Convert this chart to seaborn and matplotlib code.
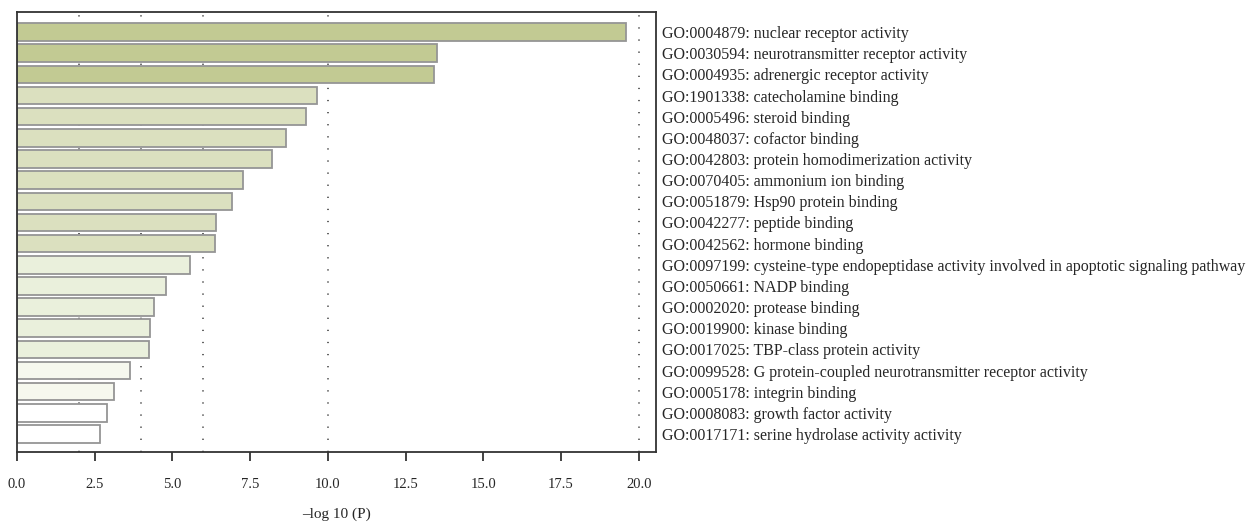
import matplotlib
matplotlib.use("Agg")
import matplotlib.pyplot as plt
import seaborn as sns
import numpy as np
from matplotlib.ticker import FormatStrFormatter

# GO molecular function terms and their enrichment (-log10 P)
terms = [
    "GO:0004879: nuclear receptor activity",
    "GO:0030594: neurotransmitter receptor activity",
    "GO:0004935: adrenergic receptor activity",
    "GO:1901338: catecholamine binding",
    "GO:0005496: steroid binding",
    "GO:0048037: cofactor binding",
    "GO:0042803: protein homodimerization activity",
    "GO:0070405: ammonium ion binding",
    "GO:0051879: Hsp90 protein binding",
    "GO:0042277: peptide binding",
    "GO:0042562: hormone binding",
    "GO:0097199: cysteine-type endopeptidase activity involved in apoptotic signaling pathway",
    "GO:0050661: NADP binding",
    "GO:0002020: protease binding",
    "GO:0019900: kinase binding",
    "GO:0017025: TBP-class protein activity",
    "GO:0099528: G protein-coupled neurotransmitter receptor activity",
    "GO:0005178: integrin binding",
    "GO:0008083: growth factor activity",
    "GO:0017171: serine hydrolase activity activity",
]
neg_log_p = [19.59, 13.52, 13.41, 9.66, 9.31, 8.66, 8.19, 7.28, 6.93, 6.40,
             6.37, 5.57, 4.79, 4.41, 4.27, 4.25, 3.65, 3.12, 2.91, 2.66]

# significance tier of each term -> fill shade
tier = [0, 0, 0, 1, 1, 1, 1, 1, 1, 1, 1, 2, 2, 2, 2, 2, 3, 3, 4, 4]
tier_colors = ["#c2ca93", "#dbe0bf", "#eaf0dc", "#f6f8ee", "#ffffff"]

# reference threshold lines
threshold_x = [2, 4, 6, 10, 20]
x_ticks = [0, 2.5, 5, 7.5, 10, 12.5, 15, 17.5, 20]

sns.set_style("ticks")
plt.rcParams["font.family"] = ["Liberation Serif", "DejaVu Serif"]
plt.rcParams["font.size"] = 10.5

fig = plt.figure(figsize=(12.54, 5.24), dpi=100)
ax = fig.add_axes([0.0135, 0.1374, 0.51, 0.8397])

palette = {t: tier_colors[k] for t, k in zip(terms, tier)}
sns.barplot(x=neg_log_p, y=terms, hue=terms, palette=palette, legend=False,
            orient="h", width=0.83, edgecolor="#959595", linewidth=1.3,
            saturation=1, ax=ax, zorder=2)

for xv in threshold_x:
    ax.axvline(xv, color="#555555", lw=1.3, linestyle=(0, (0.7, 6.0)), zorder=1)

ax.set_xlim(0, max(neg_log_p) * 1.05)
ax.set_ylim(len(terms) - 0.15, -0.95)

ax.set_xticks(x_ticks)
ax.xaxis.set_major_formatter(FormatStrFormatter("%.1f"))
ax.tick_params(axis="x", direction="out", length=6.5, width=1.3, color="#333333",
               pad=12, labelsize=10.5)
ax.tick_params(axis="y", left=False, right=False, labelleft=False,
               labelright=True, pad=0.5, labelsize=11.5)
ax.set_xlabel("\u2013log 10 (P)", fontsize=11, labelpad=12)
ax.set_ylabel("")

for side in ["top", "left", "right", "bottom"]:
    ax.spines[side].set_visible(True)
    ax.spines[side].set_color("#333333")
    ax.spines[side].set_linewidth(1.3)

fig.savefig("out.png", dpi=100)
